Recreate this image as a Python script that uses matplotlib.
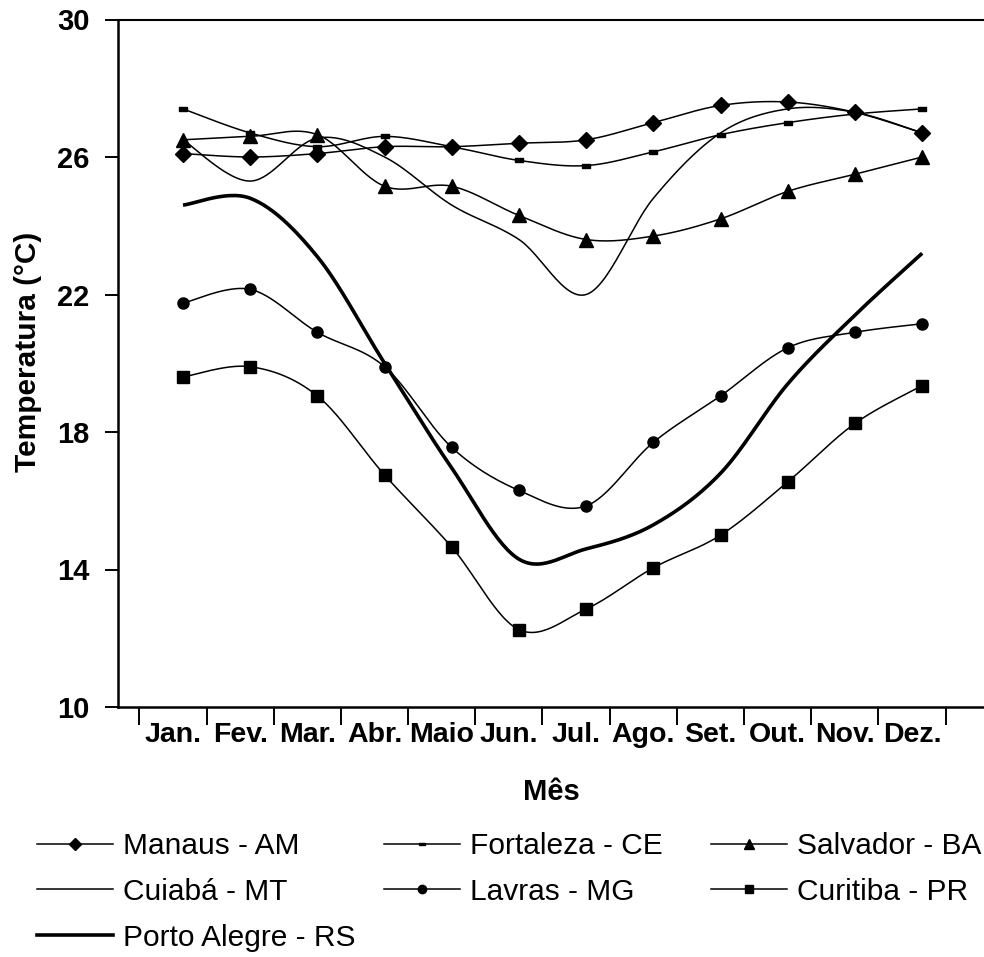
import numpy as np
import matplotlib
matplotlib.use("Agg")
import matplotlib.pyplot as plt
from matplotlib.path import Path
from matplotlib.lines import Line2D

# Monthly mean air temperature (°C) for seven Brazilian cities
months = ["Jan.", "Fev.", "Mar.", "Abr.", "Maio", "Jun.", "Jul.",
          "Ago.", "Set.", "Out.", "Nov.", "Dez."]

manaus = [26.1, 26.0, 26.1, 26.3, 26.3, 26.4, 26.5, 27.0, 27.5, 27.6, 27.3, 26.7]
fortaleza = [27.4, 26.7, 26.3, 26.6, 26.3, 25.9, 25.75, 26.15, 26.65, 27.0, 27.25, 27.4]
salvador = [26.5, 26.6, 26.65, 25.15, 25.15, 24.3, 23.6, 23.7, 24.2, 25.0, 25.5, 26.0]
cuiaba = [26.5, 25.3, 26.55, 26.0, 24.6, 23.6, 22.0, 24.8, 26.7, 27.4, 27.3, 26.7]
lavras = [21.75, 22.15, 20.9, 19.9, 17.55, 16.3, 15.85, 17.7, 19.05, 20.45, 20.9, 21.15]
curitiba = [19.6, 19.9, 19.05, 16.75, 14.65, 12.25, 12.85, 14.05, 15.0, 16.55, 18.25, 19.35]
porto_alegre = [24.6, 24.8, 23.1, 20.0, 16.95, 14.3, 14.6, 15.3, 16.8, 19.4, 21.4, 23.2]

plt.rcParams["font.family"] = ["Liberation Sans", "DejaVu Sans"]

W, H = 984, 957
fig = plt.figure(figsize=(W / 100, H / 100), dpi=100)
ax = fig.add_axes([118 / W, 1 - 707 / H, (W - 118) / W, 687.5 / H])

x = np.arange(len(months))


def smooth(xs, ys, n=30):
    """Smoothed curve through the points (cubic Bezier, Catmull-Rom tangents)."""
    p = np.column_stack([xs, ys]).astype(float)
    p_ext = np.vstack([p[0], p, p[-1]])
    t = np.linspace(0, 1, n)[:, None]
    segs = []
    for i in range(len(p) - 1):
        p0, p1, p2, p3 = p_ext[i], p_ext[i + 1], p_ext[i + 2], p_ext[i + 3]
        b1 = p1 + (p2 - p0) / 6.0
        b2 = p2 - (p3 - p1) / 6.0
        c = ((1 - t) ** 3) * p1 + 3 * ((1 - t) ** 2) * t * b1 \
            + 3 * (1 - t) * t ** 2 * b2 + t ** 3 * p2
        segs.append(c if i == 0 else c[1:])
    c = np.vstack(segs)
    return c[:, 0], c[:, 1]


dash_marker = Path([(-1, -0.4), (1, -0.4), (1, 0.4), (-1, 0.4), (-1, -0.4)],
                   [Path.MOVETO, Path.LINETO, Path.LINETO, Path.LINETO, Path.CLOSEPOLY])

series = [
    ("Manaus - AM", manaus, "D", 8.5, 1.1),
    ("Fortaleza - CE", fortaleza, dash_marker, 6.0, 1.1),
    ("Salvador - BA", salvador, "^", 10, 1.1),
    ("Cuiabá - MT", cuiaba, None, 0, 1.1),
    ("Lavras - MG", lavras, "o", 8.0, 1.1),
    ("Curitiba - PR", curitiba, "s", 8.0, 1.1),
    ("Porto Alegre - RS", porto_alegre, None, 0, 2.6),
]

handles = {}
for name, vals, mk, ms, lw in series:
    sx, sy = smooth(x, vals)
    ax.plot(sx, sy, color="black", lw=lw, solid_capstyle="butt", zorder=2)
    if mk is not None:
        ax.plot(x, vals, linestyle="none", marker=mk, markersize=ms,
                color="black", markeredgecolor="black", zorder=3)
    handles[name] = Line2D([], [], color="black", lw=lw, marker=mk,
                           markersize=ms * 0.75 if mk is not None else 0)

ax.set_xlim(-0.967, 11.92)
ax.set_ylim(10, 30)

# y axis
ax.set_yticks([10, 14, 18, 22, 26, 30])
ax.tick_params(axis="y", direction="out", length=9.5, width=1.4, pad=11,
               labelsize=21)
for lab in ax.get_yticklabels():
    lab.set_fontweight("bold")

# x axis: labels centred in each month slot, tick marks at slot boundaries
ax.set_xticks(x - 0.15)
ax.set_xticklabels(months, fontsize=20.5, fontweight="bold")
ax.set_xticks(np.arange(13) - 0.65, minor=True)
ax.tick_params(axis="x", which="major", length=0, pad=11)
ax.tick_params(axis="x", which="minor", direction="out", length=13, width=1.4)

for side in ("left", "bottom"):
    ax.spines[side].set_linewidth(1.8)
ax.spines["top"].set_linewidth(1.5)
ax.spines["right"].set_visible(False)

fig.text(28 / W, 1 - 352 / H, "Temperatura (°C)", rotation=90, ha="center",
         va="center", fontsize=21.5, fontweight="bold")
fig.text(551 / W, 1 - 792 / H, "Mês", ha="center", va="center",
         fontsize=21, fontweight="bold")

# legend laid out as three separate columns
columns = [
    (37, ["Manaus - AM", "Cuiabá - MT", "Porto Alegre - RS"]),
    (384, ["Fortaleza - CE", "Lavras - MG"]),
    (711, ["Salvador - BA", "Curitiba - PR"]),
]
for x0, names in columns:
    fig.legend([handles[k] for k in names], names, loc="upper left",
               bbox_to_anchor=(x0 / W, 1 - 832 / H), ncol=1, frameon=False,
               borderpad=0, borderaxespad=0, handlelength=2.55,
               handletextpad=0.33, labelspacing=0.6, fontsize=21.5,
               numpoints=1)

fig.savefig("out.png", dpi=100)
